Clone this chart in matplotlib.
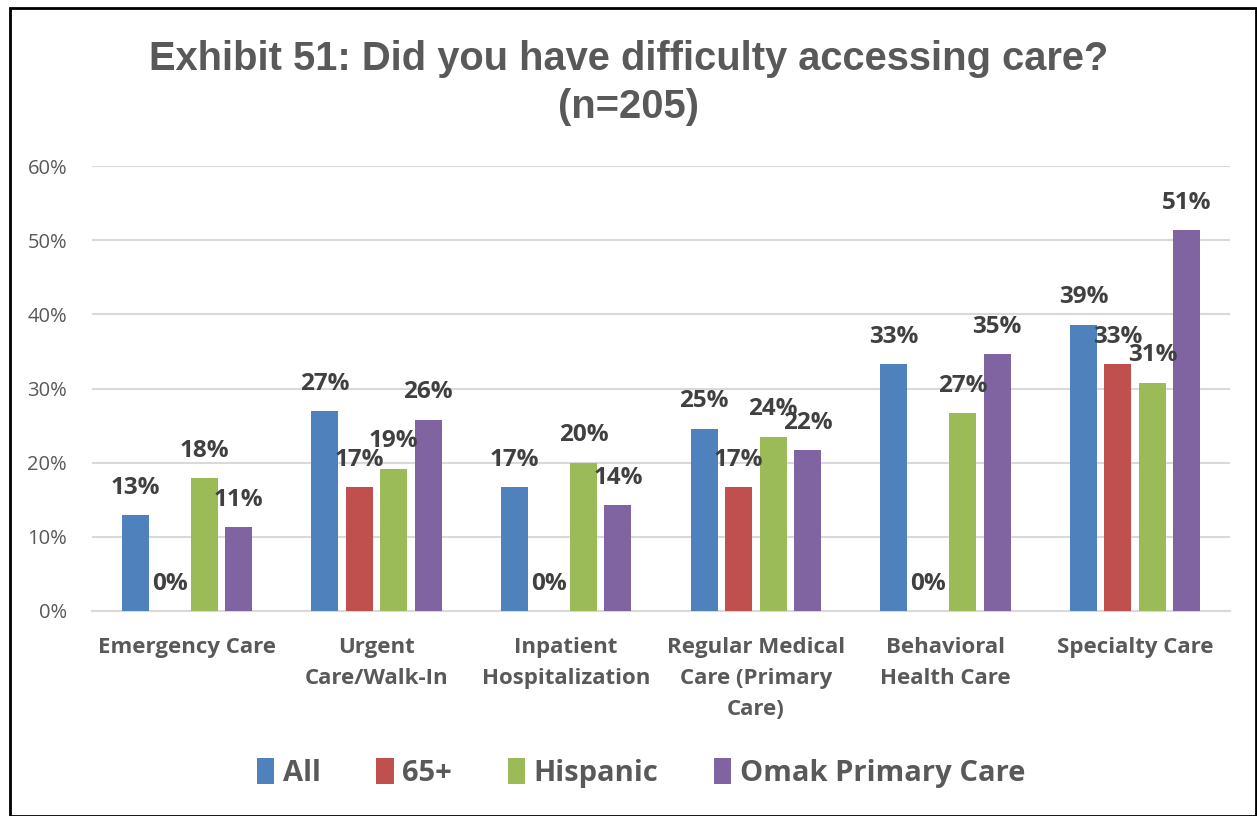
import matplotlib.pyplot as plt
import numpy as np

categories = ["Emergency Care", "Urgent\nCare/Walk-In", "Inpatient\nHospitalization",
              "Regular Medical\nCare (Primary\nCare)", "Behavioral\nHealth Care", "Specialty Care"]
series = ["All", "65+", "Hispanic", "Omak Primary Care"]
all_vals = [12.9, 26.9, 16.7, 24.6, 33.3, 38.6]
age65_vals = [0, 16.7, 0, 16.7, 0, 33.3]
hisp_vals = [17.9, 19.2, 20.0, 23.5, 26.7, 30.8]
omak_vals = [11.3, 25.8, 14.3, 21.7, 34.6, 51.4]
colors = ["#4F81BD", "#C0504D", "#9BBB59", "#8064A2"]

values = [all_vals, age65_vals, hisp_vals, omak_vals]

fig = plt.figure(figsize=(12.57, 8.16), dpi=100)
ax = fig.add_axes([92 / 1257, 1 - 611 / 816, 1138 / 1257, 445 / 816])

x = np.arange(len(categories))
pitch = 0.182
width = 0.142
for i, (name, vals, c) in enumerate(zip(series, values, colors)):
    pos = x + (i - 1.5) * pitch
    bars = ax.bar(pos, vals, width, color=c, label=name, zorder=3)
    for p, v in zip(pos, vals):
        ax.annotate(f"{v:.0f}%", (p, v), xytext=(0, 11), textcoords="offset points",
                    ha="center", va="bottom", fontsize=17.5, fontweight="bold",
                    color="#404040", family="Open Sans", zorder=4)

ax.set_xlim(-0.5, 5.5)
ax.set_ylim(0, 60)
ax.set_yticks(range(0, 61, 10))
ax.set_yticklabels([f"{t}%" for t in range(0, 61, 10)], fontsize=14.5, color="#595959", family="Open Sans")
ax.set_xticks(x)
ax.set_xticklabels(categories, fontsize=16, fontweight="bold", color="#595959",
                   family="Open Sans", va="top", linespacing=1.6)
ax.tick_params(axis="both", length=0)
ax.tick_params(axis="x", pad=19)
ax.tick_params(axis="y", pad=18)
ax.grid(axis="y", color="#D9D9D9", linewidth=1.5, zorder=0)
for s in ["top", "right", "left"]:
    ax.spines[s].set_visible(False)
ax.spines["bottom"].set_color("#D9D9D9")
ax.spines["bottom"].set_linewidth(1.5)

fig.text(0.5, 1 - 83 / 816, "Exhibit 51: Did you have difficulty accessing care?\n(n=205)",
         ha="center", va="center", fontsize=28.7, fontweight="bold", color="#595959",
         family="Liberation Sans", linespacing=1.36)

leg = fig.legend(loc="center", bbox_to_anchor=(0.51, 1 - 773 / 816), ncol=4, frameon=False,
                 prop={"family": "Open Sans", "weight": "bold", "size": 21},
                 handlelength=0.6, handleheight=1.0, handletextpad=0.3, columnspacing=1.9)
for t in leg.get_texts():
    t.set_color("#595959")

fig.patches.append(plt.Rectangle((10 / 1257, 0), 1 - 10 / 1257 - 0.001, 1 - 8 / 816,
                                 transform=fig.transFigure, fill=False, edgecolor="black",
                                 linewidth=2))

fig.savefig("out.png", dpi=100)
